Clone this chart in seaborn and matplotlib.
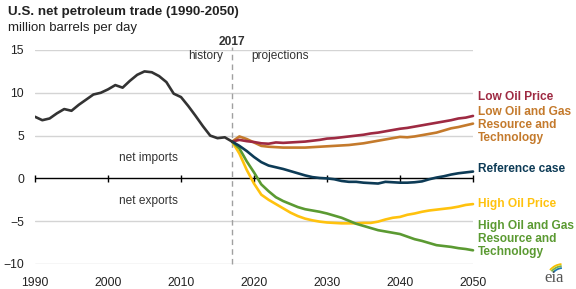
import pandas as pd
import matplotlib
matplotlib.use("Agg")
import matplotlib.pyplot as plt
from matplotlib.patches import Arc
import seaborn as sns

# history, million barrels per day
hist_years = list(range(1990, 2018))
hist_values = [7.2, 6.8, 7.0, 7.6, 8.1, 7.9, 8.6, 9.2, 9.8, 10.0,
               10.4, 10.9, 10.6, 11.4, 12.1, 12.5, 12.4, 11.95, 11.25, 9.9,
               9.5, 8.45, 7.3, 6.1, 5.0, 4.7, 4.8, 4.3]

# projections 2017-2050
proj_years = list(range(2017, 2051))
low_price = [4.3, 4.5, 4.35, 4.25, 4.1, 4.05, 4.2, 4.15, 4.2, 4.25,
             4.3, 4.4, 4.5, 4.65, 4.7, 4.8, 4.9, 5.0, 5.1, 5.25,
             5.35, 5.5, 5.65, 5.8, 5.9, 6.05, 6.2, 6.35, 6.5, 6.65,
             6.8, 7.0, 7.1, 7.3]
low_resource = [4.3, 4.9, 4.6, 4.2, 3.8, 3.7, 3.65, 3.6, 3.6, 3.6,
                3.6, 3.65, 3.7, 3.75, 3.8, 3.85, 3.9, 4.0, 4.1, 4.25,
                4.4, 4.55, 4.7, 4.85, 4.8, 4.9, 5.05, 5.2, 5.35, 5.6,
                5.85, 6.0, 6.2, 6.4]
reference = [4.3, 3.8, 3.2, 2.5, 1.9, 1.5, 1.3, 1.1, 0.85, 0.6,
             0.35, 0.15, 0.05, 0.0, -0.1, -0.3, -0.4, -0.4, -0.5, -0.55,
             -0.6, -0.4, -0.45, -0.5, -0.5, -0.45, -0.35, -0.1, 0.1, 0.25,
             0.45, 0.6, 0.7, 0.8]
high_price = [4.3, 2.9, 1.0, -0.6, -1.9, -2.5, -3.0, -3.5, -4.0, -4.4,
              -4.7, -4.9, -5.05, -5.15, -5.2, -5.25, -5.25, -5.25, -5.2, -5.2,
              -5.05, -4.8, -4.6, -4.5, -4.25, -4.1, -3.9, -3.75, -3.65, -3.55,
              -3.45, -3.3, -3.1, -3.0]
high_resource = [4.3, 3.5, 2.0, 0.7, -0.7, -1.5, -2.2, -2.65, -3.0, -3.35,
                 -3.6, -3.75, -3.9, -4.1, -4.35, -4.6, -4.95, -5.3, -5.55, -5.8,
                 -6.05, -6.2, -6.35, -6.5, -6.8, -7.1, -7.3, -7.55, -7.8, -7.9,
                 -8.0, -8.15, -8.25, -8.4]

cases = ["Low Oil and Gas\nResource and\nTechnology", "Low Oil Price",
         "High Oil Price", "High Oil and Gas\nResource and\nTechnology",
         "Reference case"]
case_values = [low_resource, low_price, high_price, high_resource, reference]
colors = {
    "Low Oil Price": "#9e2a42",
    "Low Oil and Gas\nResource and\nTechnology": "#c47a2c",
    "Reference case": "#0d3b56",
    "High Oil Price": "#ffc20e",
    "High Oil and Gas\nResource and\nTechnology": "#5b9a32",
}
# label centre heights in pixels from the top
label_y = {
    "Low Oil Price": 97,
    "Low Oil and Gas\nResource and\nTechnology": 125,
    "Reference case": 169,
    "High Oil Price": 204,
    "High Oil and Gas\nResource and\nTechnology": 239,
}

hist_df = pd.DataFrame({"year": hist_years, "value": hist_values})
proj_df = pd.concat([pd.DataFrame({"year": proj_years, "value": v, "case": c})
                     for c, v in zip(cases, case_values)], ignore_index=True)

sns.set_style("white")
plt.rcParams["font.family"] = ["Liberation Sans", "DejaVu Sans"]

W, H = 576, 289
fig = plt.figure(figsize=(W / 100, H / 100), dpi=100)
left, right, top, bottom = 35, 473, 50, 264
ax = fig.add_axes([left / W, (H - bottom) / H, (right - left) / W, (bottom - top) / H])

for y in [-10, -5, 5, 10, 15]:
    ax.axhline(y, color="#d4d4d4", lw=1.0, zorder=0)
ax.axhline(0, color="black", lw=1.0, zorder=1)
ax.vlines(range(1990, 2051, 10), -0.4, 0.4, color="black", lw=1.0, zorder=1, clip_on=False)
ax.plot([2017, 2017], [0, 1.012], transform=ax.get_xaxis_transform(), color="#a0a0a0",
        lw=1.0, ls=(0, (4, 3)), clip_on=False, zorder=1)

lw = 1.9
sns.lineplot(data=proj_df, x="year", y="value", hue="case", hue_order=cases,
             palette=colors, lw=lw, legend=False, ax=ax, clip_on=False, zorder=3)
sns.lineplot(data=hist_df, x="year", y="value", color="#333333", lw=lw, ax=ax, zorder=4)

ax.set_xlim(1990, 2050)
ax.set_ylim(-10, 15)
ax.set_xticks(range(1990, 2051, 10))
ax.set_yticks([-10, -5, 0, 5, 10, 15])
ax.tick_params(axis="both", length=0, labelsize=8.8, colors="#222222")
ax.tick_params(axis="x", pad=9)
ax.tick_params(axis="y", pad=8)
ax.set_xlabel("")
ax.set_ylabel("")
for s in ax.spines.values():
    s.set_visible(False)

ax.text(2017, 15.9, "2017", ha="center", va="center", fontsize=8.6,
        fontweight="bold", color="#333333")
ax.text(2015.8, 14.3, "history", ha="right", va="center", fontsize=8.6, color="#333333")
ax.text(2019.6, 14.3, "projections", ha="left", va="center", fontsize=8.6, color="#333333")
ax.text(2005.6, 2.4, "net imports", ha="center", va="center", fontsize=8.6, color="#333333")
ax.text(2005.6, -2.6, "net exports", ha="center", va="center", fontsize=8.6, color="#333333")

for c in cases:
    fig.text(478 / W, 1 - label_y[c] / H, c, ha="left", va="center", fontsize=8.6,
             fontweight="bold", color=colors[c], linespacing=1.15)

fig.text(8 / W, 1 - 12 / H, "U.S. net petroleum trade (1990-2050)", ha="left", va="center",
         fontsize=9.6, fontweight="bold", color="#222222")
fig.text(8 / W, 1 - 28 / H, "million barrels per day", ha="left", va="center",
         fontsize=9.5, color="#222222")

# eia logo
lg = fig.add_axes([536 / W, 2 / H, 36 / W, 36 / H])
lg.set_xlim(0, 36)
lg.set_ylim(0, 36)
lg.axis("off")
lg.text(18, 9, "eia", ha="center", va="center", fontsize=12,
        family=["Liberation Serif", "DejaVu Serif"], color="#555555")
for r, col in [(13, "#1f77b4"), (15, "#7cb342"), (17, "#f5c000")]:
    lg.add_patch(Arc((27, 6), 2 * r, 2 * r, theta1=95, theta2=140, color=col, lw=1.3))

fig.savefig("out.png", dpi=100)
